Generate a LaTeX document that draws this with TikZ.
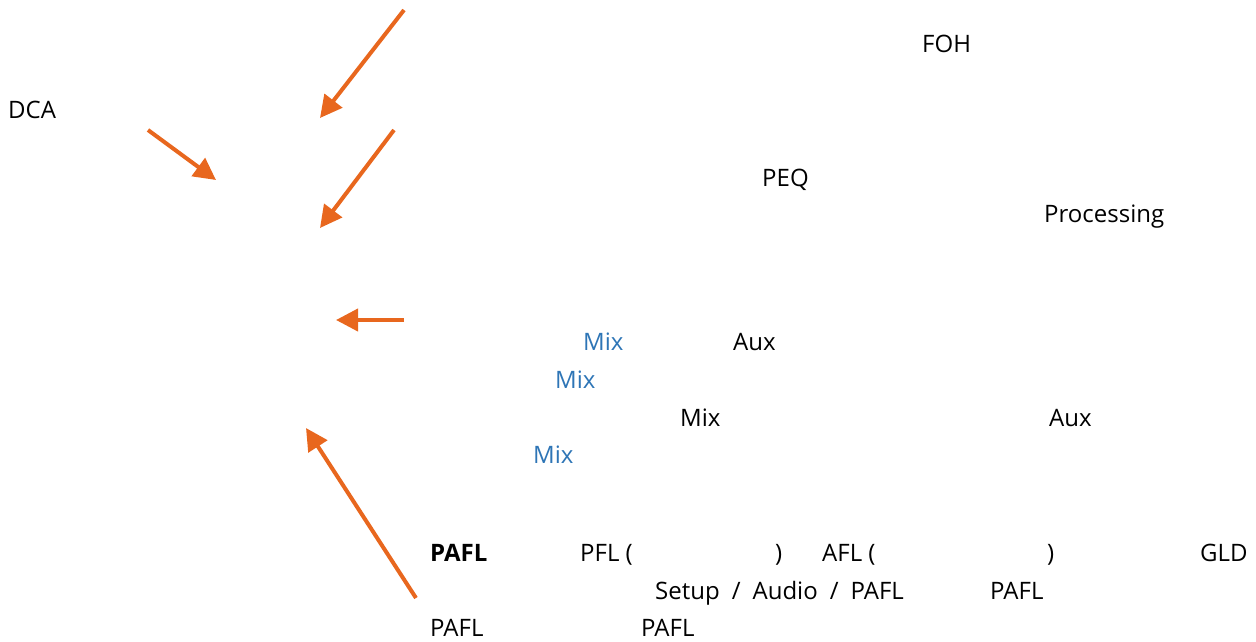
\documentclass[tikz,border=0pt]{standalone}
\usepackage{fontspec}
\setmainfont{Open Sans}
\usetikzlibrary{arrows.meta}
\definecolor{arrorange}{HTML}{E8671E}
\definecolor{mixblue}{HTML}{2E75B6}
\tikzset{
  lbl/.style={anchor=base west, inner sep=0pt, font=\fontsize{24}{28}\selectfont, text=black},
  bluelbl/.style={lbl, text=mixblue},
  callout/.style={draw=arrorange, line width=4pt, -{Triangle[length=22pt, width=22pt]}}
}
\newcommand{\wsp}{\hspace{0.5em}}
\begin{document}
\begin{tikzpicture}[x=1pt, y=-1pt]
\useasboundingbox (0,0) rectangle (1256,641);
% texts
\node[lbl] (foh) at (922,52) {FOH};
\node[lbl] (dca) at (8,118) {DCA};
\node[lbl] (peq) at (762,186) {PEQ};
\node[lbl] (proc) at (1044,222) {Processing};
\node[bluelbl] (mix1) at (583,350) {Mix};
\node[lbl] (aux1) at (733,350) {Aux};
\node[bluelbl] (mix2) at (555,388) {Mix};
\node[lbl] (mix3) at (680,426) {Mix};
\node[lbl] (aux2) at (1049,426) {Aux};
\node[bluelbl] (mix4) at (533,463) {Mix};
\node[lbl, font=\fontsize{24}{28}\selectfont\bfseries] (pafl1) at (430,561) {PAFL};
\node[lbl] (pfl) at (580,561) {PFL (};
\node[lbl] (pflc) at (775,561) {)};
\node[lbl] (afl) at (822,561) {AFL (};
\node[lbl] (aflc) at (1047,561) {)};
\node[lbl] (gld) at (1200,561) {GLD};
\node[lbl] (setup) at (655,599) {Setup\wsp/\wsp Audio\wsp/\wsp PAFL};
\node[lbl] (pafl2) at (990,599) {PAFL};
\node[lbl] (pafl3) at (430,636) {PAFL};
\node[lbl] (pafl4) at (641,636) {PAFL};
% arrows
\coordinate (a1s) at (404,10);  \coordinate (a1e) at (320,118);
\coordinate (a2s) at (148,130); \coordinate (a2e) at (216,180);
\coordinate (a3s) at (394,130); \coordinate (a3e) at (320,228);
\coordinate (a4s) at (404,320); \coordinate (a4e) at (336,320);
\coordinate (a5s) at (416,598); \coordinate (a5e) at (306,428);
\draw[callout] (a1s) -- (a1e);
\draw[callout] (a2s) -- (a2e);
\draw[callout] (a3s) -- (a3e);
\draw[callout] (a4s) -- (a4e);
\draw[callout] (a5s) -- (a5e);
\end{tikzpicture}
\end{document}
